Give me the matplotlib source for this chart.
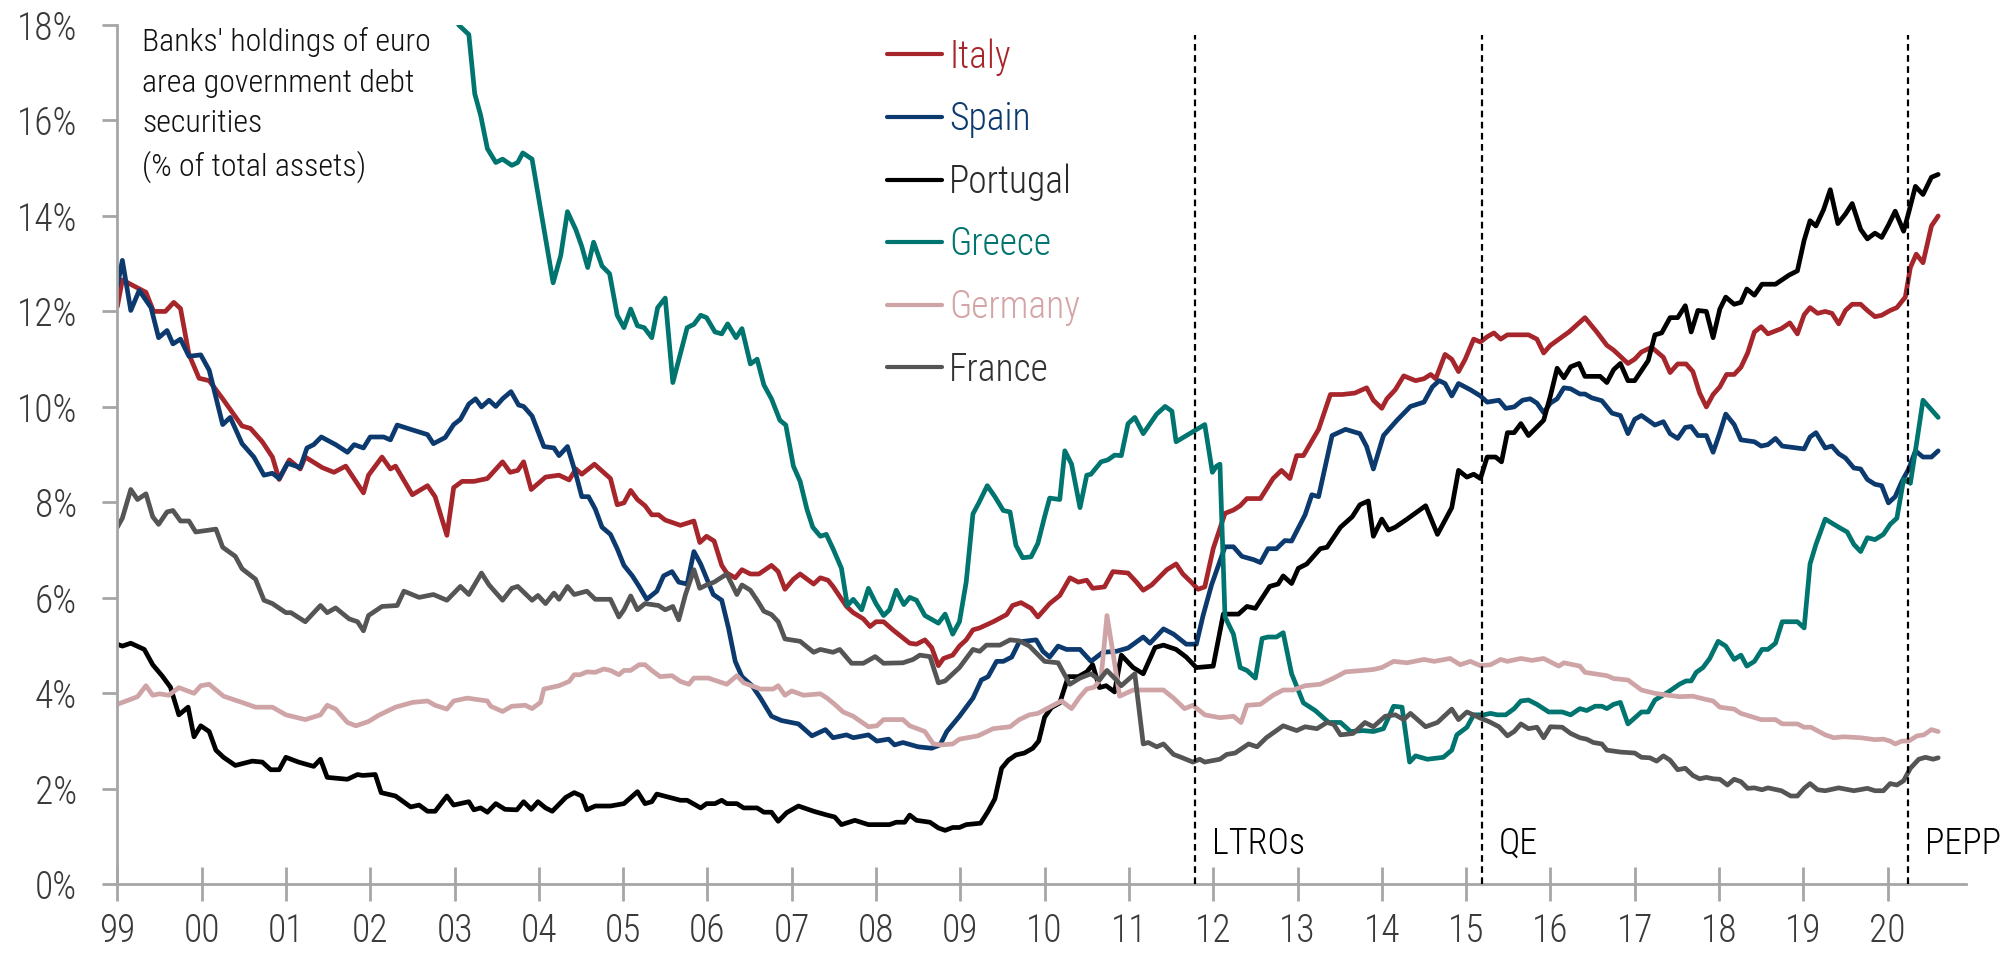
import numpy as np
import matplotlib
matplotlib.use("Agg")
import matplotlib.pyplot as plt

FONT = ['Roboto Condensed', 'Archivo Narrow', 'Barlow Condensed', 'DejaVu Sans']
plt.rcParams['font.family'] = FONT
plt.rcParams['font.weight'] = 'light'

# ---------------- data (decimal year, % of total assets) ----------------
countries = ["Italy", "Spain", "Portugal", "Greece", "Germany", "France"]
colors = ["#A6262C", "#0C3A6E", "#000000", "#00746F", "#CFA4A6", "#555555"]
label_colors = ["#A6262C", "#0C3A6E", "#2A2A2A", "#00746F", "#D4A5A7", "#333333"]

ITALY = [(1999.00,12.1),(1999.06,12.66),(1999.34,12.4),(1999.43,12.0),(1999.57,12.0),(1999.67,12.19),(1999.75,12.06),(1999.85,11.1),(1999.97,10.6),(2000.09,10.55),(2000.25,10.17),(2000.48,9.6),(2000.58,9.55),(2000.72,9.27),(2000.84,8.95),(2000.92,8.48),(2001.04,8.89),(2001.17,8.7),(2001.23,8.95),(2001.43,8.73),(2001.57,8.63),(2001.71,8.76),(2001.92,8.2),(2001.98,8.57),(2002.14,8.95),(2002.24,8.7),(2002.30,8.76),(2002.50,8.16),(2002.68,8.35),(2002.77,8.12),(2002.91,7.31),(2002.99,8.31),(2003.09,8.44),(2003.23,8.44),(2003.39,8.5),(2003.57,8.85),(2003.66,8.63),(2003.75,8.67),(2003.82,8.85),(2003.91,8.27),(2004.08,8.53),(2004.24,8.57),
         (2004.36,8.47),(2004.44,8.7),(2004.51,8.59),(2004.66,8.8),(2004.85,8.5),(2004.93,7.95),(2005.01,7.99),(2005.09,8.25),(2005.17,8.06),(2005.26,7.93),(2005.34,7.74),(2005.42,7.74),(2005.50,7.63),(2005.68,7.52),(2005.84,7.61),(2005.91,7.16),(2005.99,7.29),(2006.08,7.19),(2006.17,6.68),(2006.23,6.52),(2006.33,6.42),(2006.41,6.59),(2006.51,6.5),(2006.61,6.5),(2006.76,6.68),(2006.84,6.55),(2006.92,6.18),(2007.02,6.39),(2007.10,6.5),(2007.26,6.29),(2007.34,6.42),(2007.43,6.37),(2007.49,6.24),(2007.65,5.82),(2007.73,5.69),(2007.85,5.56),(2007.93,5.4),(2008.00,5.5),(2008.09,5.5),(2008.20,5.33),(2008.40,5.05),(2008.48,5.03),(2008.58,5.12),(2008.66,4.96),(2008.74,4.58),(2008.80,4.73),(2008.91,4.8),(2008.99,4.99),(2009.07,5.12),(2009.15,5.33),(2009.23,5.37),(2009.39,5.5),(2009.55,5.65),(2009.62,5.84),
         (2009.72,5.9),(2009.84,5.78),(2009.92,5.6),(2010.06,5.88),(2010.18,6.05),(2010.30,6.42),(2010.40,6.33),(2010.50,6.37),(2010.57,6.2),(2010.71,6.23),(2010.81,6.55),(2010.99,6.52),(2011.09,6.33),(2011.17,6.16),(2011.27,6.27),(2011.45,6.59),(2011.56,6.71),(2011.64,6.5),(2011.74,6.33),(2011.82,6.18),(2011.90,6.23),(2012.00,7.03),(2012.14,7.77),(2012.24,7.84),(2012.32,7.93),(2012.40,8.08),(2012.56,8.08),(2012.71,8.5),(2012.81,8.67),(2012.91,8.5),(2012.99,8.98),(2013.07,8.98),(2013.25,9.53),(2013.39,10.26),(2013.53,10.26),(2013.68,10.29),(2013.82,10.4),(2013.90,10.14),(2014.00,9.97),(2014.06,10.17),(2014.16,10.36),(2014.26,10.65),(2014.40,10.55),(2014.50,10.59),(2014.58,10.68),(2014.64,10.59),(2014.75,11.1),(2014.83,11.0),(2014.91,10.74),(2014.99,11.0),(2015.09,11.42),(2015.17,11.36),
         (2015.25,11.47),(2015.33,11.55),(2015.41,11.42),(2015.49,11.51),(2015.65,11.51),(2015.74,11.51),(2015.84,11.42),(2015.92,11.13),(2016.00,11.29),(2016.22,11.57),(2016.41,11.87),(2016.55,11.57),(2016.67,11.29),(2016.75,11.19),(2016.92,10.91),(2017.00,11.0),(2017.08,11.15),(2017.20,11.25),(2017.34,11.04),(2017.42,10.72),(2017.51,10.9),(2017.61,10.9),(2017.69,10.74),(2017.77,10.29),(2017.85,10.0),(2017.93,10.26),(2018.01,10.42),(2018.09,10.68),(2018.18,10.68),(2018.26,10.83),(2018.34,11.13),(2018.42,11.57),(2018.50,11.68),(2018.58,11.53),(2018.74,11.64),(2018.84,11.76),(2018.93,11.53),(2019.01,11.93),(2019.08,12.08),(2019.17,11.96),(2019.26,12.0),(2019.34,11.96),(2019.42,11.74),(2019.50,12.02),(2019.58,12.15),(2019.68,12.15),(2019.76,12.02),(2019.85,11.89),(2019.93,11.92),(2020.03,12.02),(2020.11,12.08),(2020.21,12.3),(2020.27,12.92),(2020.34,13.2),(2020.42,13.02),(2020.52,13.79),(2020.60,14.0)]

SPAIN = [(1999.00,12.53),(1999.06,13.07),(1999.16,12.02),(1999.26,12.44),(1999.40,12.08),(1999.49,11.45),(1999.59,11.6),(1999.66,11.32),(1999.75,11.42),(1999.85,11.06),(1999.99,11.09),(2000.09,10.77),(2000.25,9.63),(2000.34,9.78),(2000.48,9.23),(2000.62,8.95),(2000.74,8.57),(2000.84,8.61),(2000.92,8.5),(2001.02,8.82),(2001.17,8.73),(2001.25,9.14),(2001.33,9.21),(2001.42,9.37),(2001.59,9.21),(2001.73,9.05),(2001.81,9.21),(2001.92,9.14),(2002.00,9.37),(2002.16,9.37),(2002.24,9.31),(2002.32,9.62),(2002.48,9.53),(2002.68,9.42),(2002.75,9.23),(2002.89,9.36),(2002.99,9.63),(2003.07,9.74),(2003.17,10.06),(2003.25,10.17),(2003.32,10.0),(2003.41,10.14),(2003.49,10.01),(2003.57,10.17),(2003.67,10.32),(2003.76,10.04),(2003.82,10.01),(2003.92,9.81),(2004.06,9.17),(2004.18,9.14),(2004.24,8.98),
         (2004.34,9.17),(2004.44,8.59),(2004.51,8.12),(2004.59,8.12),(2004.67,7.86),(2004.75,7.48),(2004.85,7.33),(2004.93,7.03),(2005.01,6.68),(2005.11,6.46),(2005.19,6.24),(2005.28,5.97),(2005.40,6.14),(2005.48,6.46),(2005.58,6.55),(2005.66,6.33),(2005.76,6.29),(2005.84,6.97),(2005.92,6.71),(2006.07,6.07),(2006.17,5.95),(2006.25,5.37),(2006.33,4.67),(2006.41,4.35),(2006.53,4.16),(2006.63,3.9),(2006.76,3.52),(2006.88,3.43),(2007.08,3.36),(2007.24,3.11),(2007.40,3.24),(2007.49,3.07),(2007.65,3.13),(2007.73,3.07),(2007.91,3.13),(2008.01,3.0),(2008.15,3.04),(2008.22,2.92),(2008.32,2.97),(2008.50,2.88),(2008.66,2.85),(2008.76,2.92),(2008.84,3.2),(2008.99,3.52),(2009.15,3.9),(2009.25,4.28),(2009.33,4.35),(2009.43,4.67),(2009.51,4.67),(2009.61,4.76),
         (2009.70,5.08),(2009.90,5.12),(2009.98,4.88),(2010.06,4.76),(2010.16,4.99),(2010.26,4.92),(2010.42,4.92),(2010.55,4.67),(2010.69,4.86),(2010.85,4.88),(2010.99,4.95),(2011.17,5.18),(2011.25,5.05),(2011.41,5.35),(2011.53,5.24),(2011.68,5.03),(2011.80,5.03),(2011.88,5.63),(2011.98,6.27),(2012.14,7.07),(2012.24,7.07),(2012.34,6.87),(2012.48,6.8),(2012.56,6.74),(2012.65,7.03),(2012.75,7.03),(2012.85,7.2),(2012.93,7.19),(2013.09,7.74),(2013.17,8.16),(2013.25,8.12),(2013.41,9.4),(2013.57,9.53),(2013.74,9.44),(2013.82,9.17),(2013.90,8.7),(2014.02,9.4),(2014.18,9.72),(2014.34,10.01),(2014.50,10.1),(2014.60,10.42),(2014.68,10.55),(2014.75,10.49),(2014.83,10.23),(2014.91,10.49),(2015.05,10.36),(2015.17,10.23),
         (2015.25,10.1),(2015.39,10.14),(2015.47,9.97),(2015.57,10.0),(2015.67,10.14),(2015.76,10.17),(2015.84,10.08),(2015.92,9.88),(2016.00,10.08),(2016.08,10.17),(2016.16,10.4),(2016.24,10.38),(2016.35,10.27),(2016.41,10.27),(2016.49,10.19),(2016.61,10.13),(2016.73,9.87),(2016.83,9.82),(2016.92,9.44),(2017.00,9.74),(2017.08,9.82),(2017.24,9.62),(2017.34,9.69),(2017.42,9.44),(2017.51,9.34),(2017.60,9.57),(2017.67,9.59),(2017.75,9.4),(2017.85,9.4),(2017.93,9.05),(2018.01,9.46),(2018.08,9.85),(2018.18,9.63),(2018.26,9.31),(2018.42,9.27),(2018.50,9.18),(2018.58,9.21),(2018.67,9.34),(2018.75,9.18),(2019.01,9.12),(2019.08,9.37),(2019.15,9.46),(2019.26,9.14),(2019.34,9.18),(2019.42,9.02),(2019.50,8.93),(2019.60,8.72),(2019.68,8.7),(2019.76,8.48),(2019.85,8.38),(2019.93,8.35),(2020.01,7.99),(2020.09,8.12),(2020.17,8.44),(2020.25,8.7),(2020.33,9.08),(2020.42,8.95),(2020.52,8.95),(2020.60,9.08)]

PORTUGAL = [(1999.00,5.03),(1999.06,4.99),(1999.16,5.05),(1999.32,4.92),(1999.42,4.6),(1999.53,4.37),(1999.63,4.13),(1999.73,3.55),(1999.84,3.71),(1999.91,3.09),(1999.99,3.32),(2000.09,3.2),(2000.17,2.81),(2000.26,2.66),(2000.40,2.49),(2000.60,2.58),(2000.72,2.56),(2000.82,2.4),(2000.92,2.4),(2001.00,2.66),(2001.15,2.56),(2001.33,2.47),(2001.41,2.62),(2001.49,2.24),(2001.73,2.2),(2001.85,2.3),(2001.91,2.28),(2002.06,2.3),(2002.13,1.92),(2002.30,1.85),(2002.48,1.62),(2002.58,1.66),(2002.68,1.53),(2002.77,1.53),(2002.91,1.85),(2002.99,1.66),(2003.17,1.73),(2003.23,1.56),(2003.31,1.6),(2003.39,1.51),(2003.49,1.69),(2003.60,1.57),(2003.74,1.56),(2003.82,1.73),(2003.91,1.57),(2003.99,1.73),(2004.08,1.6),(2004.16,1.53),(2004.32,1.82),
            (2004.42,1.92),(2004.51,1.85),(2004.57,1.56),(2004.67,1.64),(2004.85,1.64),(2005.01,1.69),(2005.17,1.94),(2005.26,1.69),(2005.34,1.73),(2005.40,1.89),(2005.68,1.76),(2005.76,1.76),(2005.92,1.6),(2005.99,1.69),(2006.09,1.69),(2006.17,1.76),(2006.23,1.69),(2006.35,1.69),(2006.43,1.6),(2006.59,1.6),(2006.67,1.51),(2006.76,1.51),(2006.84,1.32),(2006.94,1.5),(2007.08,1.64),(2007.26,1.53),(2007.42,1.45),(2007.51,1.41),(2007.59,1.25),(2007.75,1.34),(2007.91,1.25),(2008.16,1.25),(2008.24,1.3),(2008.34,1.3),(2008.40,1.45),(2008.48,1.34),(2008.64,1.3),(2008.74,1.18),(2008.82,1.13),(2008.91,1.19),(2008.99,1.19),(2009.07,1.25),(2009.24,1.28),(2009.33,1.53),(2009.41,1.79),(2009.49,2.43),(2009.57,2.6),(2009.66,2.71),
            (2009.76,2.75),(2009.86,2.85),(2009.93,3.0),(2010.00,3.5),(2010.08,3.7),(2010.18,3.8),(2010.28,4.35),(2010.40,4.35),(2010.50,4.45),(2010.57,4.6),(2010.65,4.12),(2010.73,4.16),(2010.83,4.03),(2010.91,4.8),(2011.05,4.54),(2011.17,4.41),(2011.31,4.96),(2011.41,5.01),(2011.56,4.92),(2011.68,4.76),(2011.80,4.54),(2012.00,4.57),(2012.12,5.66),(2012.30,5.66),(2012.40,5.82),(2012.50,5.78),(2012.67,6.24),(2012.77,6.29),(2012.83,6.46),(2012.93,6.3),(2013.01,6.62),(2013.11,6.71),(2013.27,7.03),(2013.35,7.06),(2013.51,7.48),(2013.65,7.7),(2013.74,7.95),(2013.84,8.03),(2013.90,7.29),(2014.00,7.65),(2014.08,7.42),(2014.16,7.48),(2014.30,7.65),(2014.52,7.93),(2014.66,7.33),(2014.83,7.89),(2014.91,8.67),(2015.01,8.53),(2015.09,8.59),(2015.17,8.5),
            (2015.25,8.95),(2015.35,8.95),(2015.42,8.85),(2015.49,9.46),(2015.57,9.46),(2015.65,9.65),(2015.74,9.4),(2015.92,9.72),(2016.00,10.23),(2016.08,10.81),(2016.16,10.61),(2016.24,10.84),(2016.34,10.91),(2016.41,10.64),(2016.59,10.64),(2016.67,10.51),(2016.75,10.78),(2016.83,10.91),(2016.92,10.55),(2017.00,10.55),(2017.16,10.97),(2017.24,11.51),(2017.32,11.55),(2017.42,11.87),(2017.51,11.87),(2017.60,12.12),(2017.67,11.57),(2017.75,12.02),(2017.85,12.0),(2017.93,11.45),(2018.01,12.05),(2018.08,12.3),(2018.18,12.15),(2018.26,12.19),(2018.33,12.47),(2018.42,12.34),(2018.51,12.57),(2018.67,12.57),(2018.83,12.76),(2018.93,12.85),(2019.01,13.49),(2019.08,13.9),(2019.15,13.79),(2019.24,14.13),(2019.32,14.55),(2019.41,13.84),(2019.50,14.04),(2019.58,14.26),(2019.68,13.72),(2019.76,13.52),(2019.85,13.64),(2019.93,13.55),(2020.01,13.81),(2020.09,14.1),(2020.19,13.68),(2020.25,14.07),(2020.33,14.62),(2020.42,14.45),(2020.52,14.81),(2020.60,14.87)]

GREECE = [(2002.98,18.4),(2003.05,18.0),(2003.17,17.8),(2003.24,16.56),(2003.31,16.11),(2003.39,15.41),(2003.49,15.12),(2003.57,15.19),(2003.68,15.06),(2003.75,15.12),(2003.81,15.32),(2003.92,15.19),(2004.17,12.6),(2004.26,13.17),
          (2004.34,14.09),(2004.44,13.71),(2004.51,13.36),(2004.58,12.92),(2004.65,13.45),(2004.75,12.95),(2004.84,12.79),(2004.93,11.92),(2005.01,11.66),(2005.09,12.05),(2005.17,11.7),(2005.25,11.66),(2005.34,11.45),(2005.41,12.08),(2005.50,12.28),(2005.59,10.51),(2005.76,11.66),(2005.84,11.73),(2005.92,11.92),(2005.99,11.87),(2006.09,11.57),(2006.17,11.53),(2006.24,11.74),(2006.34,11.45),(2006.41,11.64),(2006.51,10.9),(2006.59,11.0),(2006.67,10.46),(2006.76,10.17),(2006.86,9.72),(2006.93,9.62),(2007.02,8.76),(2007.10,8.44),(2007.18,7.86),(2007.25,7.48),(2007.34,7.29),(2007.41,7.33),(2007.49,7.03),(2007.59,6.62),(2007.66,5.84),(2007.73,5.97),(2007.83,5.75),(2007.91,6.2),(2008.00,5.88),(2008.09,5.63),(2008.16,5.75),(2008.24,6.16),(2008.33,5.86),(2008.40,6.01),(2008.48,5.95),(2008.58,5.63),(2008.74,5.47),(2008.82,5.66),(2008.91,5.24),(2008.99,5.5),(2009.07,6.33),(2009.15,7.76),(2009.22,7.99),(2009.32,8.35),(2009.41,8.12),(2009.51,7.83),(2009.59,7.8),(2009.66,7.1),
          (2009.74,6.84),(2009.84,6.86),(2009.92,7.14),(2010.00,7.7),(2010.06,8.09),(2010.18,8.06),(2010.24,9.08),(2010.32,8.8),(2010.42,7.89),(2010.50,8.57),(2010.55,8.59),(2010.67,8.85),(2010.75,8.89),(2010.83,8.99),(2010.91,8.98),(2010.99,9.65),(2011.07,9.78),(2011.17,9.44),(2011.33,9.85),(2011.43,10.01),(2011.51,9.91),(2011.56,9.27),(2011.72,9.44),(2011.90,9.63),(2011.99,8.63),(2012.04,8.76),(2012.08,8.8),(2012.14,5.6),(2012.24,5.24),(2012.32,4.54),(2012.40,4.48),(2012.50,4.32),(2012.58,5.15),(2012.65,5.18),(2012.75,5.18),(2012.83,5.27),(2012.93,4.41),(2013.07,3.8),(2013.21,3.64),(2013.37,3.39),(2013.51,3.39),(2013.63,3.2),(2013.78,3.22),(2013.90,3.2),(2014.02,3.26),(2014.14,3.73),(2014.24,3.71),(2014.33,2.56),(2014.40,2.69),(2014.54,2.62),(2014.73,2.66),(2014.83,2.81),(2014.89,3.13),(2015.01,3.29),(2015.09,3.55),(2015.21,3.55),
          (2015.29,3.58),(2015.37,3.55),(2015.47,3.55),(2015.57,3.68),(2015.65,3.84),(2015.74,3.86),(2015.84,3.77),(2015.98,3.61),(2016.14,3.61),(2016.24,3.55),(2016.35,3.68),(2016.43,3.64),(2016.53,3.73),(2016.61,3.73),(2016.67,3.68),(2016.75,3.77),(2016.83,3.81),(2016.92,3.36),(2017.08,3.61),(2017.16,3.61),(2017.24,3.86),(2017.40,4.03),(2017.53,4.19),(2017.61,4.26),(2017.67,4.26),(2017.73,4.44),(2017.81,4.54),(2017.89,4.73),(2017.99,5.09),(2018.08,4.99),(2018.18,4.71),(2018.26,4.8),(2018.33,4.57),(2018.42,4.67),(2018.51,4.92),(2018.58,4.92),(2018.67,5.05),(2018.75,5.5),(2018.93,5.5),(2019.01,5.37),(2019.08,6.71),(2019.15,7.12),(2019.26,7.65),(2019.42,7.48),(2019.52,7.38),(2019.60,7.12),(2019.68,6.97),(2019.76,7.26),(2019.85,7.22),(2019.95,7.33),(2020.03,7.54),(2020.11,7.67),(2020.19,8.48),(2020.27,8.4),(2020.33,9.08),(2020.42,10.14),(2020.52,9.94),(2020.60,9.78)]

GERMANY = [(1999.00,3.77),(1999.24,3.93),(1999.34,4.16),(1999.42,3.96),(1999.50,3.99),(1999.61,3.96),(1999.73,4.12),(1999.91,4.0),(1999.99,4.16),(2000.09,4.19),(2000.26,3.94),(2000.48,3.81),(2000.64,3.71),(2000.84,3.71),(2001.00,3.55),(2001.23,3.45),(2001.41,3.55),(2001.49,3.75),(2001.59,3.67),(2001.73,3.39),(2001.83,3.32),(2001.98,3.41),(2002.10,3.54),(2002.30,3.71),(2002.50,3.81),(2002.68,3.84),(2002.77,3.75),(2002.91,3.67),(2002.99,3.84),(2003.15,3.9),(2003.39,3.84),(2003.43,3.73),(2003.57,3.62),(2003.68,3.73),(2003.84,3.75),(2003.92,3.68),(2004.02,3.81),(2004.06,4.09),(2004.24,4.16),
           (2004.36,4.25),(2004.42,4.39),(2004.49,4.39),(2004.57,4.45),(2004.67,4.44),(2004.77,4.51),(2004.85,4.48),(2004.95,4.39),(2005.01,4.48),(2005.09,4.48),(2005.19,4.6),(2005.26,4.6),(2005.34,4.48),(2005.44,4.35),(2005.58,4.37),(2005.68,4.25),(2005.78,4.19),(2005.84,4.32),(2006.01,4.32),(2006.23,4.19),(2006.35,4.37),(2006.43,4.22),(2006.63,4.09),(2006.78,4.09),(2006.84,4.16),(2006.92,3.96),(2007.00,4.05),(2007.14,3.96),(2007.34,3.99),(2007.42,3.9),(2007.51,3.77),(2007.61,3.61),(2007.73,3.52),(2007.91,3.3),(2008.01,3.32),(2008.09,3.45),(2008.32,3.45),(2008.40,3.32),(2008.58,3.2),(2008.68,2.94),(2008.78,2.92),(2008.91,2.94),(2008.99,3.04),(2009.21,3.11),(2009.39,3.26),(2009.59,3.3),
           (2009.70,3.45),(2009.82,3.55),(2009.92,3.58),(2010.06,3.71),(2010.20,3.84),(2010.32,3.68),(2010.42,3.93),(2010.50,4.09),(2010.59,4.13),(2010.67,4.32),(2010.74,5.63),(2010.81,4.86),(2010.89,3.94),(2011.05,4.07),(2011.41,4.07),(2011.53,3.9),(2011.66,3.68),(2011.76,3.75),(2011.90,3.55),(2012.08,3.49),(2012.24,3.52),(2012.33,3.39),(2012.40,3.75),(2012.56,3.77),(2012.71,3.96),(2012.83,4.07),(2012.95,4.07),(2013.09,4.16),(2013.27,4.19),(2013.43,4.32),(2013.57,4.45),(2013.78,4.48),(2013.90,4.5),(2014.00,4.54),(2014.14,4.67),(2014.30,4.64),(2014.50,4.71),(2014.62,4.67),(2014.81,4.73),(2014.93,4.6),(2015.05,4.67),(2015.17,4.58),
           (2015.29,4.6),(2015.41,4.71),(2015.49,4.67),(2015.65,4.73),(2015.78,4.69),(2015.92,4.73),(2016.10,4.57),(2016.16,4.64),(2016.35,4.57),(2016.41,4.44),(2016.67,4.37),(2016.75,4.31),(2016.92,4.28),(2017.08,4.07),(2017.24,4.0),(2017.40,3.96),(2017.53,3.93),(2017.69,3.94),(2017.85,3.87),(2017.93,3.84),(2018.01,3.71),(2018.18,3.67),(2018.26,3.58),(2018.50,3.45),(2018.67,3.45),(2018.75,3.36),(2018.93,3.36),(2019.01,3.29),(2019.09,3.29),(2019.26,3.13),(2019.36,3.07),(2019.48,3.09),(2019.68,3.07),(2019.85,3.03),(2019.95,3.04),(2020.03,3.0),(2020.09,2.94),(2020.17,3.0),(2020.25,3.0),(2020.35,3.11),(2020.43,3.13),(2020.52,3.24),(2020.60,3.2)]

FRANCE = [(1999.00,7.48),(1999.06,7.67),(1999.16,8.27),(1999.24,8.06),(1999.34,8.18),(1999.42,7.7),(1999.49,7.54),(1999.59,7.8),(1999.66,7.83),(1999.75,7.61),(1999.85,7.61),(1999.93,7.38),(2000.17,7.44),(2000.25,7.06),(2000.40,6.87),(2000.48,6.61),(2000.64,6.39),(2000.74,5.95),(2000.84,5.88),(2001.00,5.69),(2001.06,5.69),(2001.23,5.5),(2001.41,5.84),(2001.49,5.69),(2001.59,5.79),(2001.75,5.56),(2001.85,5.5),(2001.92,5.31),(2001.98,5.63),(2002.14,5.82),(2002.32,5.84),(2002.40,6.14),(2002.58,6.01),(2002.75,6.07),(2002.91,5.95),(2003.07,6.24),(2003.17,6.07),(2003.32,6.52),(2003.41,6.27),(2003.57,5.95),(2003.68,6.2),(2003.75,6.24),(2003.92,5.95),(2003.99,6.05),(2004.08,5.88),(2004.18,6.1),(2004.24,5.97),
          (2004.34,6.24),(2004.42,6.07),(2004.57,6.14),(2004.67,5.97),(2004.85,5.97),(2004.95,5.6),(2005.01,5.75),(2005.09,6.04),(2005.17,5.75),(2005.26,5.88),(2005.42,5.84),(2005.50,5.75),(2005.59,5.82),(2005.66,5.54),(2005.74,6.07),(2005.84,6.59),(2005.91,6.2),(2005.99,6.27),(2006.08,6.33),(2006.23,6.5),(2006.35,6.07),(2006.41,6.27),(2006.51,6.16),(2006.59,5.95),(2006.67,5.72),(2006.76,5.65),(2006.84,5.5),(2006.92,5.14),(2007.10,5.09),(2007.26,4.86),(2007.34,4.92),(2007.49,4.86),(2007.57,4.92),(2007.71,4.63),(2007.85,4.63),(2007.99,4.77),(2008.09,4.63),(2008.32,4.64),(2008.44,4.71),(2008.52,4.8),(2008.64,4.77),(2008.74,4.22),(2008.82,4.26),(2008.99,4.54),(2009.15,4.92),(2009.23,4.88),(2009.31,5.01),(2009.47,5.01),(2009.59,5.12),
          (2009.70,5.1),(2009.82,4.99),(2010.00,4.67),(2010.16,4.64),(2010.30,4.19),(2010.42,4.32),(2010.55,4.41),(2010.65,4.28),(2010.74,4.48),(2010.85,4.28),(2010.91,4.16),(2011.07,4.41),(2011.17,2.94),(2011.23,2.97),(2011.33,2.88),(2011.41,2.94),(2011.53,2.72),(2011.62,2.66),(2011.76,2.56),(2011.84,2.62),(2011.90,2.56),(2012.08,2.62),(2012.16,2.72),(2012.26,2.75),(2012.42,2.94),(2012.52,2.88),(2012.63,3.07),(2012.83,3.32),(2012.99,3.22),(2013.09,3.3),(2013.23,3.26),(2013.35,3.39),(2013.43,3.35),(2013.51,3.13),(2013.66,3.16),(2013.80,3.39),(2013.90,3.3),(2014.04,3.52),(2014.16,3.55),(2014.26,3.45),(2014.34,3.58),(2014.52,3.3),(2014.66,3.39),(2014.83,3.67),(2014.91,3.45),(2015.01,3.61),(2015.17,3.48),
          (2015.27,3.41),(2015.39,3.3),(2015.49,3.11),(2015.57,3.2),(2015.65,3.36),(2015.74,3.26),(2015.84,3.29),(2015.92,3.07),(2016.00,3.3),(2016.14,3.29),(2016.24,3.16),(2016.35,3.07),(2016.43,3.04),(2016.51,2.97),(2016.61,2.94),(2016.67,2.81),(2016.83,2.77),(2017.00,2.75),(2017.08,2.66),(2017.18,2.65),(2017.26,2.58),(2017.34,2.69),(2017.42,2.6),(2017.51,2.4),(2017.60,2.43),(2017.69,2.28),(2017.77,2.21),(2017.85,2.24),(2017.93,2.21),(2018.01,2.2),(2018.10,2.08),(2018.18,2.2),(2018.26,2.15),(2018.34,2.01),(2018.42,2.02),(2018.51,1.98),(2018.58,2.02),(2018.74,1.96),(2018.85,1.85),(2018.93,1.85),(2019.01,2.01),(2019.08,2.11),(2019.17,1.98),(2019.26,1.96),(2019.42,2.02),(2019.60,1.96),(2019.76,2.01),(2019.85,1.96),(2019.95,1.96),(2020.03,2.11),(2020.11,2.08),(2020.19,2.17),(2020.27,2.43),(2020.37,2.62),(2020.45,2.66),(2020.54,2.62),(2020.60,2.65)]

series = [ITALY, SPAIN, PORTUGAL, GREECE, GERMANY, FRANCE]

event_dates = [2011.78, 2015.19, 2020.24]
event_labels = ["LTROs", "QE", "PEPP"]

years = list(range(1999, 2021))
year_labels = [f"{y % 100:02d}" for y in years]
y_ticks = list(range(0, 19, 2))
y_tick_labels = [f"{v}%" for v in y_ticks]

title_text = "Banks' holdings of euro\narea government debt\nsecurities\n(% of total assets)"

# ---------------- figure ----------------
W, H = 2015, 955
fig = plt.figure(figsize=(W / 100, H / 100), dpi=100)
x0, x1 = 117.3, 1966
y0, y1 = 884.3, 25
ax = fig.add_axes([x0 / W, 1 - y0 / H, (x1 - x0) / W, (y0 - y1) / H])

for name, data, col in zip(countries, series, colors):
    arr = np.array(data)
    ax.plot(arr[:, 0], arr[:, 1], color=col, lw=3.4, label=name,
            solid_joinstyle='round', solid_capstyle='round')

for d in event_dates:
    ax.axvline(d, ymin=0, ymax=17.8 / 18, color='black', lw=1.6,
               ls=(0, (3, 2)), zorder=5)
for d, lab in zip(event_dates, event_labels):
    ax.text(d + 0.2, 0.85, lab, fontsize=26, color='black', ha='left',
            va='center', family=FONT)

ax.set_xlim(1999, 2020.93)
ax.set_ylim(0, 18)
ax.set_xticks(years, year_labels)
ax.set_yticks(y_ticks, y_tick_labels)

for s in ['top', 'right']:
    ax.spines[s].set_visible(False)
for s in ['left', 'bottom']:
    ax.spines[s].set_color('#A6A6A6')
    ax.spines[s].set_linewidth(2)

ax.tick_params(axis='x', direction='inout', length=25, width=2,
               color='#A6A6A6', labelsize=27, labelcolor='#3A3A3A', pad=8)
ax.tick_params(axis='y', direction='out', length=11, width=2,
               color='#A6A6A6', labelsize=27, labelcolor='#3A3A3A', pad=18)

fig.text(142 / W, 1 - 27 / H, title_text, fontsize=23, color='#111111',
         ha='left', va='top', linespacing=1.5, family=FONT)

leg = ax.legend(loc='upper left', bbox_to_anchor=(886.7 / W, 1 - 38 / H),
                bbox_transform=fig.transFigure, frameon=False, fontsize=27,
                handlelength=1.47, handletextpad=0.2,
                labelspacing=0.67, borderpad=0, borderaxespad=0)
for ln in leg.get_lines():
    ln.set_linewidth(3.0)
for txt, c in zip(leg.get_texts(), label_colors):
    txt.set_color(c)

fig.savefig("out.png", dpi=100)
